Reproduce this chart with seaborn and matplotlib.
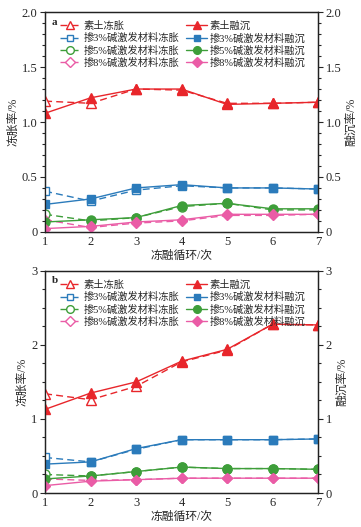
import matplotlib
matplotlib.use("Agg")
import matplotlib.pyplot as plt
import seaborn as sns
import numpy as np
from matplotlib.ticker import MultipleLocator, FuncFormatter

sns.set_style("ticks")
plt.rcParams['font.family'] = ['Liberation Serif', 'Noto Sans CJK SC', 'DejaVu Sans']
plt.rcParams['axes.unicode_minus'] = False

cycles = [1, 2, 3, 4, 5, 6, 7]

# Panel a
a_soil_frost = [1.19, 1.17, 1.30, 1.29, 1.17, 1.17, 1.18]
a_soil_thaw = [1.08, 1.22, 1.30, 1.30, 1.16, 1.17, 1.18]
a_3_frost = [0.37, 0.28, 0.38, 0.42, 0.40, 0.40, 0.39]
a_3_thaw = [0.25, 0.30, 0.40, 0.43, 0.40, 0.40, 0.39]
a_5_frost = [0.16, 0.10, 0.13, 0.23, 0.26, 0.20, 0.20]
a_5_thaw = [0.09, 0.11, 0.13, 0.24, 0.26, 0.21, 0.21]
a_8_frost = [0.11, 0.04, 0.08, 0.10, 0.15, 0.15, 0.16]
a_8_thaw = [0.03, 0.05, 0.09, 0.11, 0.16, 0.16, 0.16]

# Panel b
b_soil_frost = [1.34, 1.26, 1.44, 1.77, 1.93, 2.28, 2.27]
b_soil_thaw = [1.13, 1.35, 1.50, 1.78, 1.94, 2.28, 2.27]
b_3_frost = [0.48, 0.42, 0.59, 0.72, 0.72, 0.72, 0.73]
b_3_thaw = [0.39, 0.42, 0.60, 0.72, 0.72, 0.72, 0.73]
b_5_frost = [0.25, 0.23, 0.29, 0.35, 0.33, 0.33, 0.32]
b_5_thaw = [0.19, 0.23, 0.29, 0.35, 0.33, 0.33, 0.32]
b_8_frost = [0.19, 0.17, 0.18, 0.20, 0.20, 0.20, 0.20]
b_8_thaw = [0.10, 0.16, 0.18, 0.20, 0.20, 0.20, 0.20]

labels_frost = ['素土冻胀', '掺3%碱激发材料冻胀', '掺5%碱激发材料冻胀', '掺8%碱激发材料冻胀']
labels_thaw = ['素土融沉', '掺3%碱激发材料融沉', '掺5%碱激发材料融沉', '掺8%碱激发材料融沉']
colors = ['#e8262b', '#2b7bbb', '#3e9e3a', '#ea5ca6']
markers = ['^', 's', 'o', 'D']
msizes = [6.5, 5.5, 6.5, 5.5]

xlabel = '冻融循环/次'
ylabel_l = '冻胀率/%'
ylabel_r = '融沉率/%'

fig = plt.figure(figsize=(3.61, 5.27), dpi=100)
ax_a = fig.add_axes([0.125, 0.560, 0.756, 0.417])
ax_b = fig.add_axes([0.125, 0.0645, 0.756, 0.4215])


def style_y(ax, major, minor, yfmt):
    ax.yaxis.set_major_locator(MultipleLocator(major))
    ax.yaxis.set_minor_locator(MultipleLocator(minor))
    ax.yaxis.set_major_formatter(yfmt)
    ax.tick_params(axis='y', which='major', direction='out', length=3.5, width=0.8, labelsize=9, pad=2)
    ax.tick_params(axis='y', which='minor', direction='out', length=2, width=0.8)
    for s in ax.spines.values():
        s.set_linewidth(0.9)
        s.set_color('#222222')


def draw(ax, frost, thaw, ymax, major, minor, tag, yfmt):
    for i in range(4):
        sns.lineplot(x=cycles, y=frost[i], ax=ax, color=colors[i], marker=markers[i],
                     markersize=msizes[i], markerfacecolor='white', markeredgecolor=colors[i],
                     markeredgewidth=1.0, linestyle=(0, (5, 3)), linewidth=1.0, label=labels_frost[i],
                     zorder=3)
    for i in range(4):
        sns.lineplot(x=cycles, y=thaw[i], ax=ax, color=colors[i], marker=markers[i],
                     markersize=msizes[i], markerfacecolor=colors[i], markeredgecolor=colors[i],
                     markeredgewidth=1.0, linestyle='-', linewidth=1.0, label=labels_thaw[i],
                     zorder=3)
    ax.set_xlim(1, 7)
    ax.set_ylim(0, ymax)
    ax.set_xticks(cycles)
    ax.tick_params(axis='x', length=0, labelsize=9, pad=3)
    style_y(ax, major, minor, yfmt)
    ax.set_xlabel(xlabel, fontsize=8.5, labelpad=1)
    ax.set_ylabel(ylabel_l, fontsize=8.5, labelpad=2)
    ax.text(0.025, 0.975, tag, transform=ax.transAxes, fontsize=8, fontweight='bold',
            ha='left', va='top')
    h, l = ax.get_legend_handles_labels()
    ax.legend(h, l, ncol=2, loc='upper left', bbox_to_anchor=(0.05, 0.965), frameon=False,
              fontsize=7.4, handlelength=2.0, handletextpad=0.3, columnspacing=0.7,
              labelspacing=0.2, borderaxespad=0.0, borderpad=0.1, markerscale=0.85)
    r = ax.twinx()
    r.set_ylim(0, ymax)
    style_y(r, major, minor, yfmt)
    r.set_ylabel(ylabel_r, fontsize=8.5, labelpad=3)


def fmt_a(v, pos):
    return '0' if abs(v) < 1e-9 else f'{v:.1f}'


def fmt_b(v, pos):
    return f'{v:.0f}'


draw(ax_a, [a_soil_frost, a_3_frost, a_5_frost, a_8_frost],
     [a_soil_thaw, a_3_thaw, a_5_thaw, a_8_thaw], 2.0, 0.5, 0.1, 'a', FuncFormatter(fmt_a))
draw(ax_b, [b_soil_frost, b_3_frost, b_5_frost, b_8_frost],
     [b_soil_thaw, b_3_thaw, b_5_thaw, b_8_thaw], 3.0, 1.0, 0.25, 'b', FuncFormatter(fmt_b))

fig.savefig('out.png', dpi=100)
